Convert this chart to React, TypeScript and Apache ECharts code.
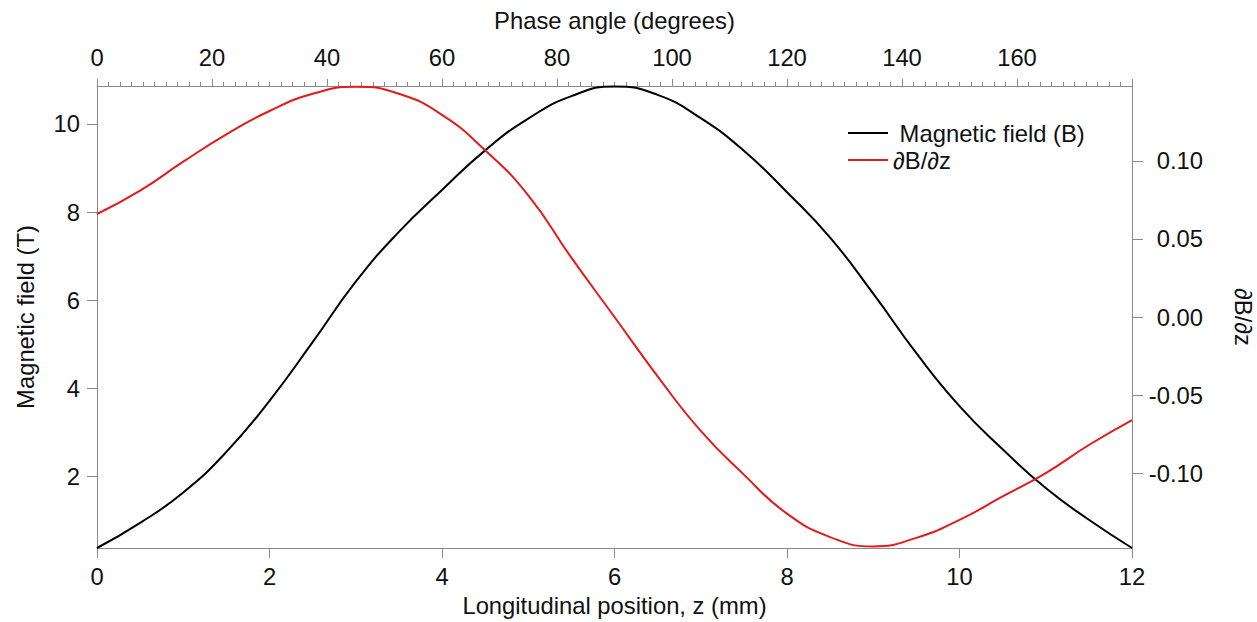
import React, { useEffect, useRef } from 'react';
import * as echarts from 'echarts';

// Longitudinal position z (mm)
const positionMm = [0, 0.5, 1, 1.5, 2, 2.5, 3, 3.5, 4, 4.5, 5, 5.5, 6, 6.5, 7, 7.5, 8, 8.5, 9, 9.5, 10, 10.5, 11, 11.5, 12];
// Magnetic field B (T)
const magneticField = [0.38, 0.95, 1.64, 2.56, 3.72, 5.05, 6.42, 7.55, 8.5, 9.4, 10.12, 10.63, 10.85, 10.66, 10.13, 9.39, 8.45, 7.42, 6.15, 4.8, 3.6, 2.62, 1.74, 1.02, 0.38];
// dB/dz
const gradient = [0.066, 0.081, 0.0995, 0.117, 0.132, 0.143, 0.1475, 0.143, 0.1295, 0.1068, 0.078, 0.038, 0.0, -0.038, -0.073, -0.101, -0.126, -0.141, -0.147, -0.1415, -0.13, -0.115, -0.1, -0.082, -0.066];

const leftTicks = [2, 4, 6, 8, 10];
const rightTicks = [-0.1, -0.05, 0, 0.05, 0.1];

const FONT = '"Liberation Sans", Arial, Helvetica, sans-serif';
const FS = 23.8;
const TEXT = '#111111';
const AXIS = '#8a8a8a';
const RED = '#e31b1b';

export default function App() {
  const ref = useRef<HTMLDivElement>(null);
  useEffect(() => {
    const chart = echarts.init(ref.current!, null, { renderer: 'svg' });
    const axisCommon = {
      axisLine: { show: true, onZero: false, lineStyle: { color: AXIS, width: 1 } },
      splitLine: { show: false },
      nameTextStyle: { fontSize: FS, color: TEXT, fontFamily: FONT },
    };
    chart.setOption({
      animation: false,
      backgroundColor: '#ffffff',
      textStyle: { fontFamily: FONT },
      grid: { left: 97, right: 125, top: 86, bottom: 74, containLabel: false, outerBoundsMode: 'none' },
      legend: {
        orient: 'vertical',
        left: 848,
        top: 120,
        padding: 0,
        itemGap: 1,
        itemWidth: 40,
        itemHeight: 2,
        icon: 'rect',
        textStyle: { fontSize: FS, color: TEXT, fontFamily: FONT, lineHeight: 26 },
        formatter: (name: string) => (name === 'Magnetic field (B)' ? ' ' + name : name),
        data: ['Magnetic field (B)', '∂B/∂z'],
      },
      xAxis: [
        {
          ...axisCommon,
          type: 'value',
          position: 'bottom',
          min: 0,
          max: 12,
          interval: 2,
          name: 'Longitudinal position, z (mm)',
          nameLocation: 'middle',
          nameGap: 45,
          axisTick: { show: true, inside: false, length: 10, lineStyle: { color: AXIS } },
          axisLabel: { fontSize: FS, color: TEXT, margin: 16, fontFamily: FONT },
        },
        {
          ...axisCommon,
          type: 'value',
          position: 'top',
          min: 0,
          max: 180,
          interval: 20,
          name: 'Phase angle (degrees)',
          nameLocation: 'middle',
          nameGap: 54,
          axisTick: { show: true, inside: false, length: 7, lineStyle: { color: AXIS } },
          minorTick: { show: true, splitNumber: 10, length: 4, lineStyle: { color: AXIS } },
          axisLabel: { fontSize: FS, color: TEXT, margin: 17, showMaxLabel: false, fontFamily: FONT },
        },
      ],
      yAxis: [
        {
          ...axisCommon,
          type: 'value',
          position: 'left',
          min: 0.38,
          max: 10.86,
          name: 'Magnetic field (T)',
          nameLocation: 'middle',
          nameGap: 60,
          axisTick: { show: true, inside: false, length: 10, customValues: leftTicks, lineStyle: { color: AXIS } },
          axisLabel: { fontSize: FS, color: TEXT, margin: 17, customValues: leftTicks, fontFamily: FONT },
        },
        {
          ...axisCommon,
          type: 'value',
          position: 'right',
          min: -0.148,
          max: 0.148,
          name: '∂B/∂z',
          nameLocation: 'middle',
          nameRotate: -90,
          nameGap: 99,
          axisTick: { show: true, inside: false, length: 11, customValues: rightTicks, lineStyle: { color: AXIS } },
          axisLabel: {
            fontSize: FS,
            color: TEXT,
            align: 'right',
            margin: 71,
            customValues: rightTicks,
            fontFamily: FONT,
            formatter: (v: number) => v.toFixed(2),
          },
        },
      ],
      series: [
        {
          name: 'Magnetic field (B)',
          type: 'line',
          xAxisIndex: 0,
          yAxisIndex: 0,
          data: positionMm.map((z, i) => [z, magneticField[i]]),
          smooth: true,
          symbol: 'none',
          lineStyle: { color: '#000000', width: 2 },
          itemStyle: { color: '#000000' },
        },
        {
          name: '∂B/∂z',
          type: 'line',
          xAxisIndex: 0,
          yAxisIndex: 1,
          data: positionMm.map((z, i) => [z, gradient[i]]),
          smooth: true,
          symbol: 'none',
          lineStyle: { color: RED, width: 2 },
          itemStyle: { color: RED },
        },
      ],
    });
    return () => chart.dispose();
  }, []);
  return (
    <div
      ref={ref}
      style={{ position: 'fixed', left: 0, top: 0, width: 1257, height: 622, background: '#ffffff' }}
    />
  );
}
